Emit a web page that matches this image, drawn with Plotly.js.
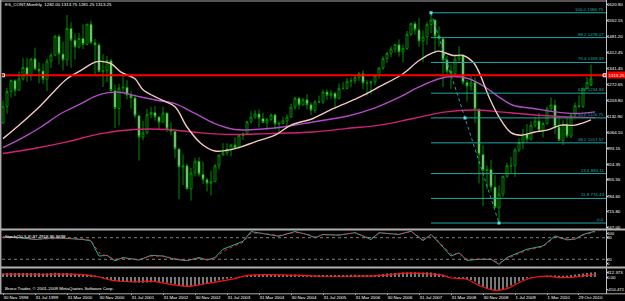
<!DOCTYPE html>
<html><head><meta charset="utf-8">
<script src="https://cdn.plot.ly/plotly-3.0.1.min.js"></script>
<style>html,body{margin:0;padding:0;background:#000;}#chart{width:625px;height:301px;}</style>
</head><body><div id="chart"></div>
<script>
// ---- monthly candles, index 0 = Nov 1998 ----
const openP  = [1105,1176,1242,1290,1248,1297,1347,1313,1385,1340,1332,1296,1375,1402,1484,1406,1380,1518,1467,1437,1474,1448,1537,1455,1446,1329,1334,1377,1246,1168,1257,1261,1227,1214,1136,1043,1061,1141,1150,1131,1108,1148,1078,1068,991,912,917,816,886,937,880,856,841,848,917,964,974,989,1008,995,1050,1057,1110,1130,1144,1124,1106,1120,1140,1100,1103,1114,1130,1174,1213,1183,1206,1184,1160,1197,1196,1240,1225,1235,1213,1256,1256,1287,1289,1304,1320,1279,1279,1285,1313,1345,1386,1409,1428,1447,1415,1430,1492,1539,1512,1463,1481,1535,1555,1485,1473,1380,1331,1320,1384,1400,1281,1266,1283,1165,967,896,901,824,734,794,871,918,917,986,1019,1056,1034,1094,1113,1071,1102,1166,1183,1087,1028,1099,1047,1139,1180,1177,1254,1269,1320];
const highP  = [1202,1258,1296,1295,1330,1388,1390,1387,1434,1370,1365,1387,1411,1490,1493,1460,1577,1545,1497,1498,1536,1537,1552,1472,1456,1405,1397,1386,1273,1276,1323,1292,1244,1229,1140,1113,1166,1175,1178,1133,1175,1149,1108,1071,995,967,926,908,953,955,936,865,896,925,966,1016,1016,1012,1041,1054,1064,1112,1156,1160,1164,1150,1127,1146,1141,1108,1132,1142,1188,1218,1218,1215,1231,1195,1204,1224,1251,1251,1248,1239,1276,1283,1302,1304,1318,1327,1336,1292,1289,1314,1348,1397,1416,1440,1450,1470,1447,1507,1543,1549,1564,1510,1546,1586.75,1556,1527,1476,1398,1360,1403,1440,1406,1293,1314,1304,1167,1007,919,944,876,832,874,930,956,996,1038,1079,1100,1112,1129,1148,1111,1177,1217,1205,1129,1118,1127,1148,1194,1225,1260,1306,1360];
const lowP   = [1100,1145,1215,1222,1245,1290,1285,1290,1335,1278,1276,1244,1345,1396,1360,1335,1355,1346,1383,1430,1428,1444,1452,1318,1326,1262,1283,1234,1082,1094,1238,1207,1168,1126,940,1028,1055,1126,1115,1076,1108,1065,1050,952,771,833,814,765,871,870,838,805,788,846,901,962,961,959,989,995,1030,1052,1104,1123,1085,1105,1074,1112,1077,1058,1100,1089,1127,1162,1164,1182,1164,1138,1148,1192,1188,1206,1209,1172,1207,1251,1252,1260,1276,1288,1253,1224,1230,1270,1298,1336,1368,1393,1412,1395,1370,1425,1485,1492,1438,1371,1446,1497,1412,1440,1262,1316,1254,1310,1372,1272,1198,1246,1105,840,741,815,804,733,666.75,781,865,887,869,977,990,1018,1027,1084,1070,1041,1098,1154,1056,1027,1008,1039,1038,1129,1171,1171,1262,1315];
const closeP = [1176,1242,1290,1248,1297,1347,1313,1385,1340,1332,1296,1375,1402,1484,1406,1380,1518,1467,1437,1474,1448,1537,1455,1446,1329,1334,1377,1246,1168,1257,1261,1227,1214,1136,1043,1061,1141,1150,1131,1108,1148,1078,1068,991,912,917,816,886,937,880,856,841,848,917,964,974,989,1008,995,1050,1057,1110,1130,1144,1124,1106,1120,1140,1100,1103,1114,1130,1174,1213,1183,1206,1184,1160,1197,1196,1240,1225,1235,1213,1256,1256,1287,1289,1304,1320,1279,1279,1285,1313,1345,1386,1409,1428,1447,1415,1430,1492,1539,1512,1463,1481,1535,1555,1485,1473,1380,1331,1320,1384,1400,1281,1266,1283,1165,967,896,901,824,734,794,871,918,917,986,1019,1056,1034,1094,1113,1071,1102,1166,1183,1087,1028,1099,1047,1139,1180,1177,1254,1282,1300,1357];

// moving averages (month index, price)
const maFastIdx = [0,4.5,9.5,13,16,19.5,23,24.5,27,29.5,33,35,39.5,43,46,49.5,53,56,59.5,63,68,72,77.5,82.5,89,94,100,104,107.5,109,112.5,115,117.5,119,121.5,124,127,129.5,133,136,139.5,143,147];
const maFastVal = [1036,1102,1182,1247,1298,1335,1371,1374,1364,1327,1298,1250,1207,1175,1087,1015,982,985,1000,1022,1051,1095,1124,1167,1216,1262,1320,1378,1412,1419,1400,1400,1371,1327,1218,1131,1062,1051,1065,1073,1095,1095,1118];
const maMidIdx  = [0,4.5,9.5,14.5,19.5,23,26,29,31,34.5,38.5,43,48,53,58,63,69,73,77.5,86,92.5,99,104,109,112.5,116.5,120.5,124,127.5,133,138,143,148];
const maMidVal  = [997,1036,1087,1146,1189,1221,1236,1239,1233,1218,1204,1189,1146,1102,1076,1076,1085,1095,1109,1134,1167,1216,1262,1298,1308,1298,1262,1218,1182,1167,1153,1146,1153];
const maSlowIdx = [0,7.75,16,24.5,32.75,41,49.5,57.75,66,77.5,85.75,94.25,102.5,110.75,117.75,125,133.75,142,148];
const maSlowVal = [971,993,1022,1058,1076,1076,1061,1054,1058,1065,1080,1095,1124,1153,1161,1152,1138,1131,1128];

// Fibonacci retracement
const fibLevels = ['100.0','88.2','76.4','61.8','50.0','38.2','23.6','11.8','0.0'];
const fibPrices = [1586.75,1478.07,1369.39,1234.93,1126.75,1017.57,883.11,774.43,666.75];
const fibStartIdx = 107, fibEndIdx = 124;
const bidPrice = 1313.25;

// Stochastic (20,3,3)
const stochIdx = [0,4,8,12,16,20,22,24,26,28,30,34,37,40,43,46,49,51,53,55,58,60,62,65,69,73,76,78,80,84,88,92,94,99,102,105,107,109,112,114,116,119,122,124,126,131,135,138,141,143,145,148];
const stochK   = [82,80,75,79,78,75,71,29,31,16,25,18,31,29,20,16,25,18,25,48,61,70,97,91,84,97,89,80,89,87,94,75,94,89,98,72,89,66,29,38,17,20,20,6,25,48,57,85,74,76,89,98];
const stochD   = [83,81,76,78,78,76,73,38,30,20,23,19,29,29,22,17,23,19,23,42,58,67,93,92,86,95,90,82,88,88,93,78,92,90,97,75,87,69,34,37,20,20,21,9,22,45,55,82,76,76,87,96];

// MACD histogram (one per month) and signal line
const macdHist = [110,120,125,120,120,125,120,125,125,120,110,115,120,130,125,115,125,
 110,100,95,85,80,70,50,
 10,-30,-60,-90,-120,-140,-150,
 -150,-155,-160,-170,-175,-170,-160,-155,-155,-160,
 -175,-200,-230,-265,-285,-290,-280,-260,-240,-220,
 -200,-170,-140,-110,-80,-55,-30,-10,
 5,20,40,60,
 70,75,75,70,65,60,60,60,65,70,75,70,65,60,
 55,55,60,60,60,65,65,60,60,65,70,70,65,60,60,60,65,75,
 90,105,115,125,130,135,140,145,145,140,140,145,
 140,120,100,70,40,
 10,-20,-40,-50,-70,-90,
 -140,-230,-300,-350,-390,-410,
 -400,-370,-320,-260,-200,-140,-90,
 -50,-25,-5,5,
 20,35,45,50,40,35,45,
 60,80,95,110,125,140,150];
const sigIdx = [0,10,20,24,27,33,37,46,51,58,61,74,78,95,101,107,110,112,116,119,123,126,129,132,136,139,142,146,148];
const sigVal = [90,85,75,0,-100,-150,-130,-290,-200,-50,50,50,30,50,120,90,50,-30,-70,-260,-410,-360,-175,-30,30,-20,-10,50,70];

// time axis labels
const timeTickIdx = [0,8,16,24,32,40,48,56,64,72,80,88,96,104,112,120,128,136,143.75];
const timeTickText = ['30 Nov 1998','31 Jul 1999','31 Mar 2000','30 Nov 2000','31 Jul 2001','31 Mar 2002','30 Nov 2002','31 Jul 2003','31 Mar 2004','30 Nov 2004','31 Jul 2005','31 Mar 2006','30 Nov 2006','31 Jul 2007','31 Mar 2008','30 Nov 2008','1 Jul 2009','1 Mar 2010','29 Oct 2010'];
const priceTicks = [1620.90,1552.15,1481.20,1412.45,1341.45,1272.65,1203.80,1132.90,1064.10,993.15,924.35,855.55,784.60,715.80,647.00];

// ---------- build ----------
const W = 625, H = 301;
const px = v => v / W, py = v => (H - v) / H;
const F = 'Liberation Sans, Arial, sans-serif';
const FS = 4.4;
const idx = openP.map((_, i) => i);
const TEAL = '#20a8a8';

const traces = [];
traces.push({type:'candlestick', x: idx, open: openP, high: highP, low: lowP, close: closeP,
  xaxis:'x', yaxis:'y',
  increasing:{line:{color:'#008c00', width:1}, fillcolor:'#000000'},
  decreasing:{line:{color:'#008c00', width:1}, fillcolor:'#e0ffe0'},
  whiskerwidth:0, hoverinfo:'skip', showlegend:false});
traces.push({type:'scatter', mode:'lines', x: maSlowIdx, y: maSlowVal, line:{color:'#d02276', width:1.4, shape:'spline'}, hoverinfo:'skip'});
traces.push({type:'scatter', mode:'lines', x: maMidIdx, y: maMidVal, line:{color:'#b04cc4', width:1.4, shape:'spline'}, hoverinfo:'skip'});
traces.push({type:'scatter', mode:'lines', x: maFastIdx, y: maFastVal, line:{color:'#f4c8c4', width:1.4, shape:'spline'}, hoverinfo:'skip'});
fibPrices.forEach((p) => {
  traces.push({type:'scatter', mode:'lines', x:[fibStartIdx, 150.75], y:[p,p], line:{color:TEAL, width:1}, hoverinfo:'skip'});
});
traces.push({type:'scatter', mode:'lines+markers', x:[fibStartIdx, (fibStartIdx+fibEndIdx)/2, fibEndIdx], y:[fibPrices[0], fibPrices[4], fibPrices[8]],
  line:{color:TEAL, width:1, dash:'dot'}, marker:{symbol:'square', size:3, color:'#60e0e0'}, hoverinfo:'skip'});
traces.push({type:'scatter', mode:'lines', x:[-0.25,150.75], y:[bidPrice,bidPrice], line:{color:'#ff0000', width:2}, hoverinfo:'skip'});
traces.push({type:'scatter', mode:'markers', x:[0,150.4], y:[bidPrice,bidPrice], marker:{symbol:'square-open', size:3, color:'#ffffff', line:{width:1,color:'#ffffff'}}, hoverinfo:'skip'});
traces.push({type:'scatter', mode:'lines', x: stochIdx, y: stochK, xaxis:'x', yaxis:'y2', line:{color:'#20b2aa', width:1}, hoverinfo:'skip'});
traces.push({type:'scatter', mode:'lines', x: stochIdx, y: stochD, xaxis:'x', yaxis:'y2', line:{color:'#ff2020', width:1, dash:'dot'}, hoverinfo:'skip'});
traces.push({type:'bar', x: idx, y: macdHist, xaxis:'x', yaxis:'y3', width:0.28, marker:{color:'#d8d8d8', line:{width:0}}, hoverinfo:'skip'});
traces.push({type:'scatter', mode:'lines', x: sigIdx, y: sigVal, xaxis:'x', yaxis:'y3', line:{color:'#ff1010', width:1.2, shape:'spline'}, hoverinfo:'skip'});

const axisFont = {family:F, size:FS, color:'#ffffff'};
const yCommon = {side:'right', anchor:'x', showgrid:false, zeroline:false, tickmode:'array',
  ticks:'outside', ticklen:1, tickcolor:'#c0c0c0', tickfont:axisFont, ticklabelstandoff:-2};
const layout = {
  width:W, height:H, margin:{l:0,r:0,t:0,b:0},
  paper_bgcolor:'#000000', plot_bgcolor:'#000000', showlegend:false,
  xaxis:{domain:[px(2), px(606)], range:[-0.25,150.75], anchor:'y3', showgrid:false, zeroline:false,
    tickmode:'array', tickvals: timeTickIdx, ticktext: timeTickText, ticks:'outside', ticklen:1, tickcolor:'#c0c0c0',
    tickangle:0, ticklabelposition:'outside right', ticklabelstandoff:0, tickfont:axisFont, rangeslider:{visible:false}, showline:false},
  yaxis:Object.assign({}, yCommon, {domain:[py(228), py(1.5)], range:[645,1636],
    tickvals: priceTicks, ticktext: priceTicks.map(v=>v.toFixed(2))}),
  yaxis2:Object.assign({}, yCommon, {domain:[py(266.5), py(230.5)], range:[0,100],
    tickvals:[91,80,20,9], ticktext:['100','80','20','0']}),
  yaxis3:Object.assign({}, yCommon, {domain:[py(293), py(268.5)], range:[-493,262],
    tickvals:[132,0,-370], ticktext:['312.373','0.00','-410.471']}),
  shapes:[
    {type:'line', xref:'paper', yref:'paper', x0:px(0.7), x1:px(0.7), y0:py(0), y1:py(294), line:{color:'#a8a8a8', width:1.5}},
    {type:'line', xref:'paper', yref:'paper', x0:px(0), x1:px(606.5), y0:py(1), y1:py(1), line:{color:'#a8a8a8', width:1}},
    {type:'line', xref:'paper', yref:'paper', x0:px(606.5), x1:px(606.5), y0:py(0), y1:py(294), line:{color:'#c0c0c0', width:1}},
    {type:'line', xref:'paper', yref:'paper', x0:px(0), x1:px(625), y0:py(229.5), y1:py(229.5), line:{color:'#b0b0b0', width:2}},
    {type:'line', xref:'paper', yref:'paper', x0:px(0), x1:px(625), y0:py(267.5), y1:py(267.5), line:{color:'#b0b0b0', width:2}},
    {type:'line', xref:'paper', yref:'paper', x0:px(0), x1:px(625), y0:py(293.8), y1:py(293.8), line:{color:'#b0b0b0', width:1}},
    {type:'line', xref:'paper', yref:'y2', x0:px(2), x1:px(606), y0:80, y1:80, line:{color:'#808080', width:1, dash:'dot'}},
    {type:'line', xref:'paper', yref:'y2', x0:px(2), x1:px(606), y0:20, y1:20, line:{color:'#808080', width:1, dash:'dot'}}
  ],
  annotations:[
    {xref:'paper', yref:'paper', x:px(3), y:py(5), xanchor:'left', yanchor:'middle', showarrow:false,
     text:'ES_CONT,Monthly  1282.00 1313.75 1281.25 1313.25', font:{family:F, size:FS, color:'#ffffff'}},
    {xref:'paper', yref:'paper', x:px(3), y:py(236.5), xanchor:'left', yanchor:'middle', showarrow:false,
     text:'Stoch(20,3,3) 97.7918 95.9699', font:{family:F, size:FS, color:'#ffffff'}},
    {xref:'paper', yref:'paper', x:px(3), y:py(288), xanchor:'left', yanchor:'middle', showarrow:false,
     text:'Broco Trader, © 2001-2009 MetaQuotes Software Corp.', font:{family:F, size:FS, color:'#ffffff'}},
    {xref:'paper', yref:'y', x:px(607), y:bidPrice, xanchor:'left', yanchor:'middle', showarrow:false,
     text:'1313.25', bgcolor:'#ff0000', borderpad:0.5, font:{family:F, size:FS, color:'#ffffff'}}
  ]
};
fibPrices.forEach((p, k) => {
  layout.annotations.push({xref:'paper', yref:'y', x:px(605), y:p, xanchor:'right', yanchor:'bottom', showarrow:false,
    text: fibLevels[k] + (k < fibPrices.length-1 ? ' ' + p.toFixed(2) : ''), font:{family:F, size:FS, color:TEAL}, borderpad:0});
});
Plotly.newPlot('chart', traces, layout, {staticPlot:true, displayModeBar:false});
</script></body></html>
